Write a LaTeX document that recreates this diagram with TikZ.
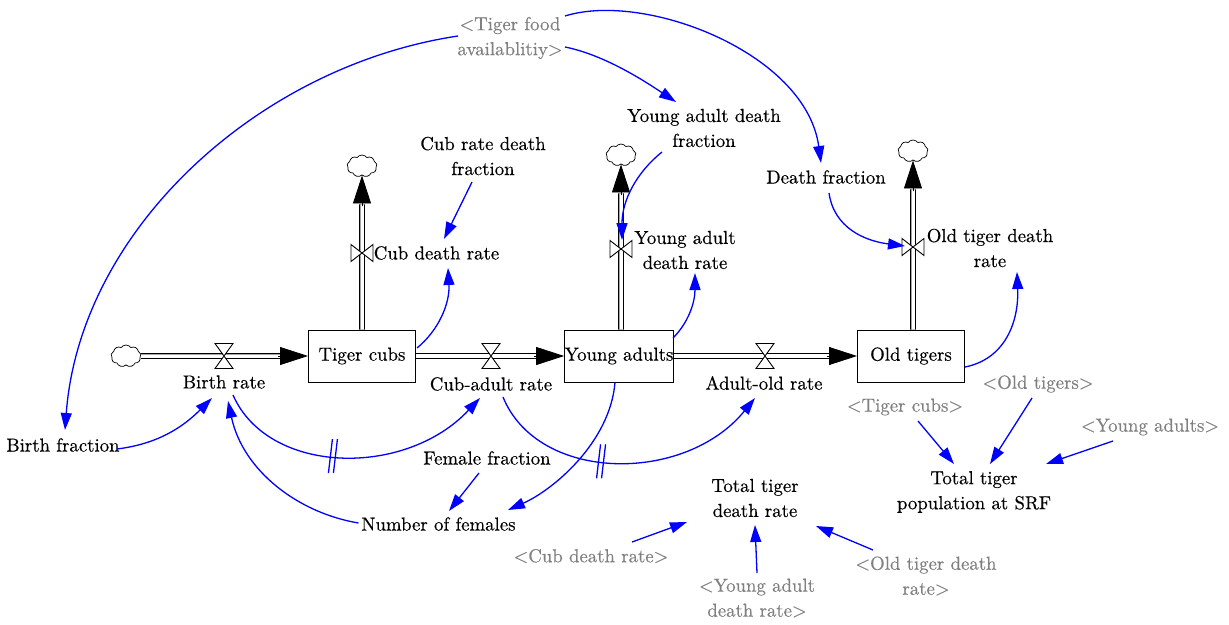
\documentclass[tikz,border=0pt]{standalone}
\usepackage{fontspec}
\newfontfamily\lmten{lmroman10-regular}[Extension=.otf, FakeBold=0.4]
\usetikzlibrary{arrows.meta,shapes.symbols}
\definecolor{linkblue}{RGB}{0,0,255}
\definecolor{shadowgray}{RGB}{128,128,128}
\begin{document}
\begin{tikzpicture}[x=1pt,y=-1pt,
  font=\lmten\fontsize{18.8}{25}\selectfont,
  lbl/.style={align=center, inner sep=1pt, text=black},
  shadow/.style={lbl, text=shadowgray},
  stock/.style={draw, line width=1pt, minimum width=107pt, minimum height=52pt, inner sep=0pt},
  cloudsrc/.style={cloud, cloud puffs=9, cloud puff arc=110, aspect=1.4, draw, line width=0.7pt, minimum width=30pt, minimum height=22pt, inner sep=0pt},
  pipe/.style={draw=black, double=white, double distance=3.5pt, line width=1.1pt},
  flowtip/.style={-{Triangle[length=28pt,width=18pt]}, line width=0.8pt, draw=black, fill=black},
  conn/.style={draw=linkblue, line width=1.3pt, -{Triangle[length=17pt,width=11pt]}},
  delaymark/.style={draw=linkblue, line width=1.3pt},
  valveh/.pic={\draw[fill=white, line width=0.9pt] (-9,-12.5) -- (9,-12.5) -- (-9,12.5) -- (9,12.5) -- cycle;},
  valvev/.pic={\draw[fill=white, line width=0.9pt] (-11,-8.5) -- (-11,8.5) -- (11,-8.5) -- (11,8.5) -- cycle;}
]
\useasboundingbox (0,0) rectangle (1229,624);

% stocks
\node[stock] (tc) at (362,356) {Tiger cubs};
\node[stock] (ya) at (619,356) {Young adults};
\node[stock] (ot) at (911,356) {Old tigers};

% clouds
\node[cloudsrc] (c0) at (126,356) {};
\node[cloudsrc] (c1) at (362,166) {};
\node[cloudsrc] (c2) at (621,155) {};
\node[cloudsrc] (c3) at (913,151) {};

% valve positions
\coordinate (vb) at (224,356);
\coordinate (vca) at (491,356);
\coordinate (vao) at (765,356);
\coordinate (vcd) at (362,253);
\coordinate (vyd) at (621,249);
\coordinate (vod) at (913,247);

% flow labels
\node[lbl] (br) at (224,382) {Birth rate};
\node[lbl] (car) at (491,384) {Cub-adult rate};
\node[lbl] (aor) at (764,383) {Adult-old rate};
\node[lbl] (cdr) at (436.5,253) {Cub death rate};
\node[lbl] (yadr) at (685,250) {Young adult\\death rate};
\node[lbl] (otdr) at (990,248) {Old tiger death\\rate};

% auxiliaries
\node[shadow] (tfa) at (510,38) {<Tiger food\\availablitiy>};
\node[lbl] (yadf) at (704,128) {Young adult death\\fraction};
\node[lbl] (crdf) at (483,156) {Cub rate death\\fraction};
\node[lbl] (df) at (826,177) {Death fraction};
\node[lbl] (bf) at (63,445) {Birth fraction};
\node[lbl] (ff) at (487,458) {Female fraction};
\node[lbl] (nf) at (438.5,524) {Number of females};
\node[lbl] (ttdr) at (755,498) {Total tiger\\death rate};
\node[shadow] (gcdr) at (591,556) {<Cub death rate>};
\node[shadow] (gyadr) at (757,598) {<Young adult\\death rate>};
\node[shadow] (gotdr) at (926,576) {<Old tiger death\\rate>};
\node[shadow] (gtc) at (905,407) {<Tiger cubs>};
\node[shadow] (got) at (1038,384) {<Old tigers>};
\node[shadow] (gya) at (1150,427) {<Young adults>};
\node[lbl] (ttp) at (974,492) {Total tiger\\population at SRF};

% pipes (flows)
\draw[pipe] (c0.east) -- ([xshift=-27]tc.west);
\draw[flowtip] ([xshift=-30]tc.west) -- (tc.west);
\draw[pipe] (tc.east) -- ([xshift=-27]ya.west);
\draw[flowtip] ([xshift=-30]ya.west) -- (ya.west);
\draw[pipe] (ya.east) -- ([xshift=-27]ot.west);
\draw[flowtip] ([xshift=-30]ot.west) -- (ot.west);
\draw[pipe] (tc.north) -- ([shift={(0,29)}]c1.south);
\draw[flowtip] ([shift={(0,31)}]c1.south) -- (c1.south);
\draw[pipe] ([xshift=2]ya.north) -- ([shift={(0,29)}]c2.south);
\draw[flowtip] ([shift={(0,31)}]c2.south) -- (c2.south);
\draw[pipe] ([xshift=2]ot.north) -- ([shift={(0,29)}]c3.south);
\draw[flowtip] ([shift={(0,31)}]c3.south) -- (c3.south);

% valves
\pic at (vb) {valveh};
\pic at (vca) {valveh};
\pic at (vao) {valveh};
\pic at (vcd) {valvev};
\pic at (vyd) {valvev};
\pic at (vod) {valvev};

% connectors
\draw[conn] ([shift={(-52,-2)}]tfa.center) .. controls +(-200,30) and +(15,-200) .. ([shift={(2,-15)}]bf.center);
\draw[conn] ([shift={(55,9)}]tfa.center) .. controls +(40,8) and +(-30,-20) .. ([shift={(-28,-26)}]yadf.center);
\draw[conn] ([shift={(55,-22)}]tfa.center) .. controls +(80,-25) and +(-15,-110) .. ([shift={(-5,-14)}]df.center);
\draw[conn] ([shift={(-42,24)}]yadf.center) .. controls +(-25,20) and +(0,-40) .. ([shift={(1,-9)}]vyd);
\draw[conn] ([shift={(-11,26)}]crdf.center) -- ([shift={(7.5,-14)}]cdr.center);
\draw[conn] ([shift={(3,16)}]df.center) .. controls +(5,35) and +(-40,-5) .. ([shift={(-8,-1)}]vod);
\draw[conn] ([shift={(55,-8)}]tc.center) .. controls +(22,-18) and +(2,35) .. ([shift={(11.5,15)}]cdr.center);
\draw[conn] ([shift={(54,-18)}]ya.center) .. controls +(15,-15) and +(0,30) .. ([shift={(10,23)}]yadr.center);
\draw[conn] ([shift={(54,11)}]ot.center) .. controls +(40,-8) and +(2,50) .. ([shift={(27,24)}]otdr.center);
\draw[conn] ([shift={(54,4)}]bf.center) .. controls +(40,-5) and +(-30,30) .. ([shift={(-12,16)}]br.center);
\draw[conn] ([shift={(9,13)}]br.center) .. controls +(35,80) and +(-75,80) .. ([shift={(-11,14)}]car.center) coordinate[pos=0.47] (dm1);
\draw[conn] ([shift={(-80,-1)}]nf.center) .. controls +(-60,-10) and +(15,70) .. ([shift={(4,19)}]br.center);
\draw[conn] ([shift={(-8,15)}]ff.center) -- ([shift={(10.5,-13)}]nf.center);
\draw[conn] ([xshift=-4]ya.south) .. controls +(-5,60) and +(45,-20) .. ([shift={(69.5,-14)}]nf.center);
\draw[conn] ([shift={(12,13)}]car.center) .. controls +(35,86) and +(-70,86) .. ([shift={(-9,15)}]aor.center) coordinate[pos=0.45] (dm2);
\draw[conn] ([shift={(41,-14)}]gcdr.center) -- ([shift={(-68,24)}]ttdr.center);
\draw[conn] ([shift={(0,-25)}]gyadr.center) -- ([shift={(0,27)}]ttdr.center);
\draw[conn] ([shift={(-53,-26)}]gotdr.center) -- ([shift={(61,28)}]ttdr.center);
\draw[conn] ([shift={(13,14)}]gtc.center) -- ([shift={(-20,-28)}]ttp.center);
\draw[conn] ([shift={(-6,14)}]got.center) -- ([shift={(16,-28)}]ttp.center);
\draw[conn] ([shift={(-37,14)}]gya.center) -- ([shift={(72,-28)}]ttp.center);

% delay marks
\draw[delaymark] ([shift={(-0.5,-17)}]dm1) -- ([shift={(-4.5,17)}]dm1);
\draw[delaymark] ([shift={(4.5,-17)}]dm1) -- ([shift={(0.5,17)}]dm1);
\draw[delaymark] ([shift={(-0.5,-17)}]dm2) -- ([shift={(-4.5,17)}]dm2);
\draw[delaymark] ([shift={(4.5,-17)}]dm2) -- ([shift={(0.5,17)}]dm2);
\end{tikzpicture}
\end{document}
